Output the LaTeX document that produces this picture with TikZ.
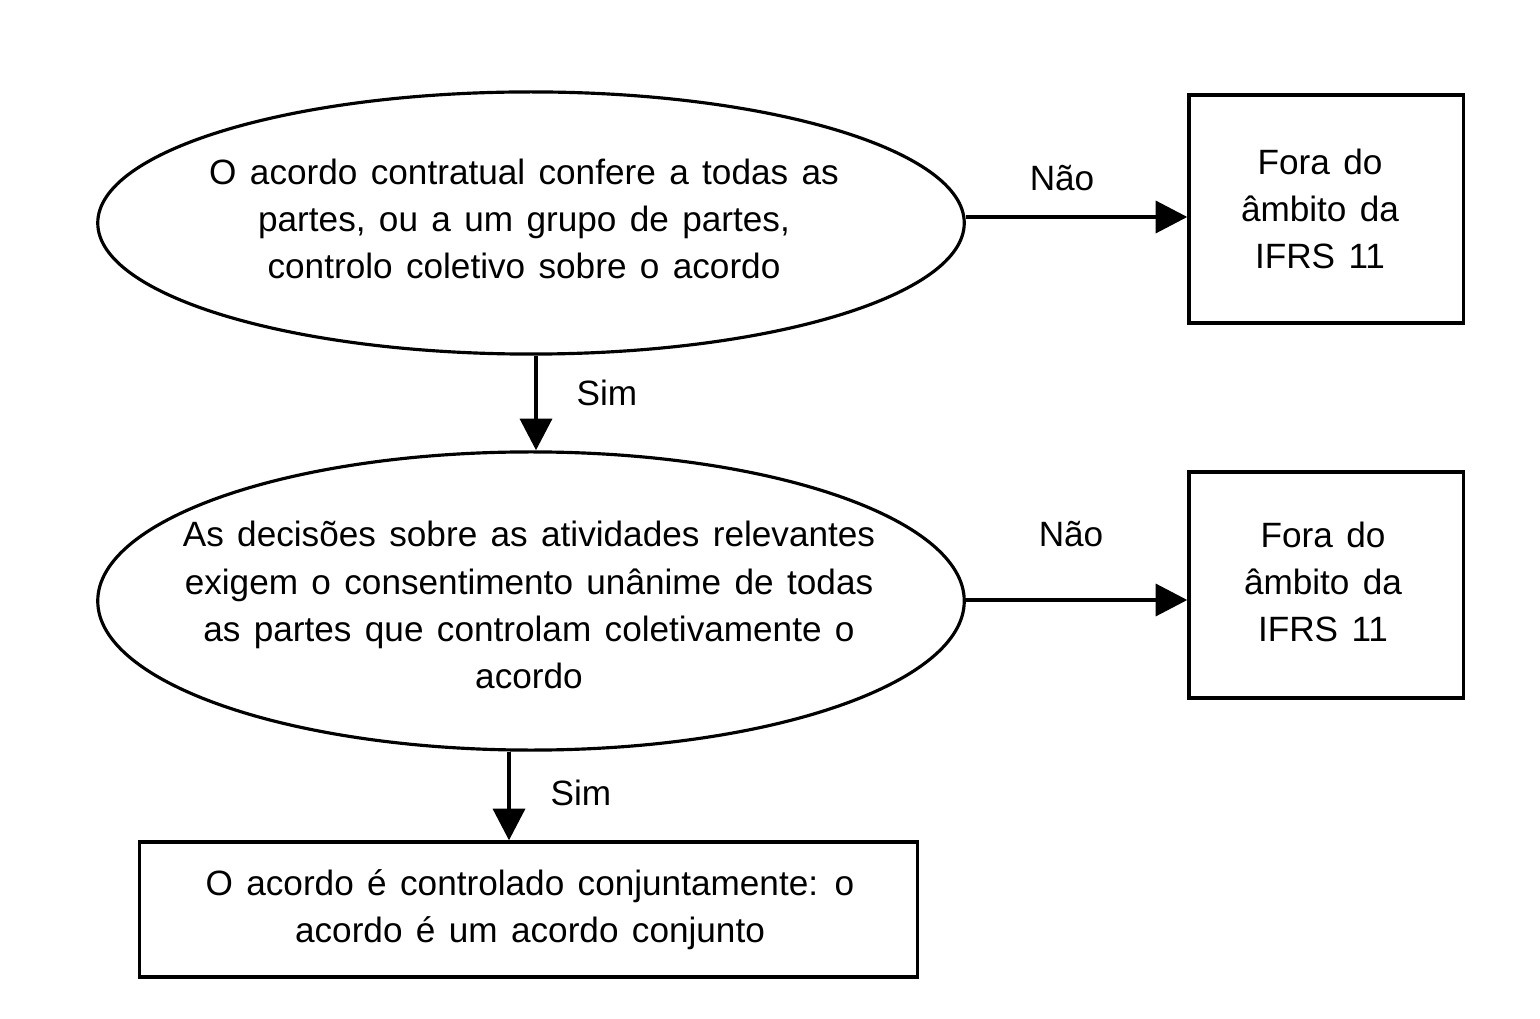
\documentclass[tikz,border=0pt]{standalone}
\usepackage{fontspec}
\setmainfont{Liberation Sans}
\usetikzlibrary{arrows.meta,shapes.geometric}
\newcommand\mytxtfont{\fontsize{10}{13.4}\selectfont\spaceskip=0.38em plus 0.1em\relax}
\begin{document}
\begin{tikzpicture}[x=0.01cm,y=-0.01cm,
  txt/.style={font=\mytxtfont, align=center, inner sep=0pt},
  ell/.style={draw, line width=0.9pt, ellipse, inner sep=0pt},
  box/.style={draw, line width=0.9pt, rectangle, inner sep=0pt},
  arr/.style={line width=1.3pt, -{Triangle[length=9pt,width=9pt]}},
  lbl/.style={font=\fontsize{10}{12}\selectfont, inner sep=0pt}]
\useasboundingbox (0,0) rectangle (1540,1019);
\node[ell, minimum width=8.66cm, minimum height=2.62cm] (e1) at (531,223) {};
\node[txt] (t1) at (524,219) {O acordo contratual confere a todas as\\partes, ou a um grupo de partes,\\controlo coletivo sobre o acordo};
\node[ell, minimum width=8.66cm, minimum height=2.98cm] (e2) at (531,601) {};
\node[txt] (t2) at (529,605) {As decisões sobre as atividades relevantes\\exigem o consentimento unânime de todas\\as partes que controlam coletivamente o\\acordo};
\node[box, minimum width=2.74cm, minimum height=2.28cm] (b1) at (1326,209) {};
\node[txt] (tb1) at (1320,209) {Fora do\\âmbito da\\IFRS 11};
\node[box, minimum width=2.74cm, minimum height=2.26cm] (b2) at (1326,585) {};
\node[txt] (tb2) at (1323,582) {Fora do\\âmbito da\\IFRS 11};
\node[box, minimum width=7.77cm, minimum height=1.35cm] (b3) at (528.5,909.5) {};
\node[txt] (tb3) at (530,910) {O acordo é controlado conjuntamente: o\\acordo é um acordo conjunto};
\draw[arr] (e1.east |- 0,217) -- (b1.west |- 0,217);
\draw[arr] (e2.east |- 0,600) -- (b2.west |- 0,600);
\draw[arr] (e1.south -| 536,0) -- (e2.north -| 536,0);
\draw[arr] (e2.south -| 509,0) -- (b3.north -| 509,0);
\node[lbl] (n1) at (1062,178) {Não};
\node[lbl] (n2) at (1071,534) {Não};
\node[lbl] (s1) at (607,393) {Sim};
\node[lbl] (s2) at (581,793) {Sim};
\end{tikzpicture}
\end{document}
